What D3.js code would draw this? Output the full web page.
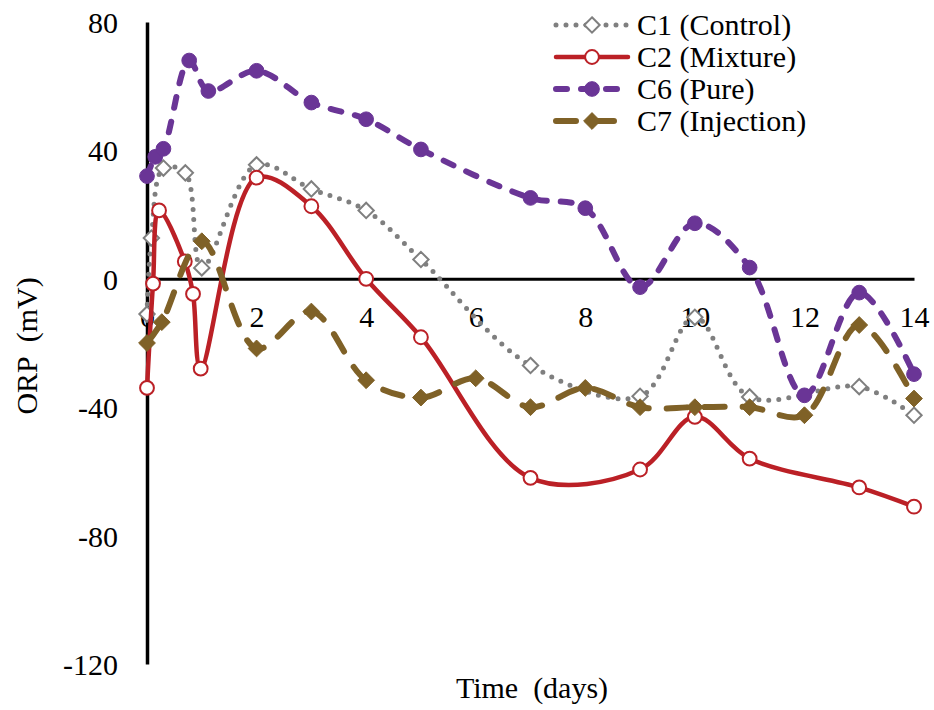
<!DOCTYPE html>
<html>
<head>
<meta charset="utf-8">
<script src="https://cdn.jsdelivr.net/npm/d3@7"></script>
<style>
  body { margin: 0; background: #fff; }
  svg text { font-family: "Liberation Serif", "Times New Roman", serif; fill: #000; }
</style>
</head>
<body>
<svg id="chart" width="934" height="710"></svg>
<script>
// ORP readings over two weeks for four treatments
const xTicks = [0, 2, 4, 6, 8, 10, 12, 14];
const yTicks = [80, 40, 0, -40, -80, -120];

const c1Days = [0, 0.08, 0.3, 0.7, 1.0, 2, 3, 4, 5, 7, 9, 10, 11, 13, 14];
const c1Orp  = [-11, 12.7, 34.5, 33, 3.4, 35.5, 28, 21.3, 6, -27, -36.6, -12, -36.8, -33.6, -42.5];

const c2Days = [0, 0.11, 0.22, 0.69, 0.84, 0.98, 2, 3, 4, 5, 7, 9, 10, 11, 13, 14];
const c2Orp  = [-34, -1.5, 21.3, 5.4, -4.7, -28, 31.5, 22.6, 0, -18.2, -62, -59.4, -43, -56, -65, -71];

const c6Days = [0, 0.15, 0.3, 0.77, 1.12, 2, 3, 4, 5, 7, 8, 9, 10, 11, 12, 13, 14];
const c6Orp  = [32, 38, 40.5, 68, 58.5, 64.8, 54.9, 49.7, 40.3, 25.2, 22, -2.6, 17.3, 3.5, -36.3, -4.3, -29.7];

const c7Days = [0, 0.27, 1.0, 2, 3, 4, 5, 6, 7, 8, 9, 10, 11, 12, 13, 14];
const c7Orp  = [-20, -13.5, 11.7, -21.7, -10.2, -31.6, -37, -31, -40, -34, -40, -40, -40, -42.5, -14.4, -37.3];

const seriesNames = ["C1 (Control)", "C2 (Mixture)", "C6 (Pure)", "C7 (Injection)"];

const svg = d3.select("#chart");
const x = d3.scaleLinear().domain([0, 14]).range([147, 914]);
const y = d3.scaleLinear().domain([-120, 80]).range([664, 22]);

// series styling
const styles = [
  { color: "#7f7f7f", width: 5,   dash: "0,10",  cap: "round", marker: "diamond", filled: false, msize: 150 },
  { color: "#bb2026", width: 4.5, dash: null,    cap: "round", marker: "circle",  filled: false, msize: 150 },
  { color: "#6a3596", width: 6,   dash: "11,14", cap: "round", marker: "circle",  filled: true,  msize: 170 },
  { color: "#7f6127", width: 6,   dash: "20,18", cap: "round", marker: "diamond", filled: true,  msize: 180 }
];

const series = [
  c1Days.map((d, i) => [d, c1Orp[i]]),
  c2Days.map((d, i) => [d, c2Orp[i]]),
  c6Days.map((d, i) => [d, c6Orp[i]]),
  c7Days.map((d, i) => [d, c7Orp[i]])
];

// plain hyphen for negatives
const fmt = d => String(d);

// axes
const xAxis = d3.axisBottom(x).tickValues(xTicks).tickSize(0).tickPadding(0).tickFormat(fmt);
const gx = svg.append("g").attr("transform", `translate(0,${y(0)})`).call(xAxis);
gx.select(".domain").attr("stroke", "#000").attr("stroke-width", 3);
gx.selectAll("text").attr("font-size", 30).attr("dy", 0).attr("y", 48)
  .style("font-family", '"Liberation Serif", serif');

const yAxis = d3.axisLeft(y).tickValues(yTicks).tickSize(0).tickPadding(0).tickFormat(fmt);
const gy = svg.append("g").attr("transform", `translate(${x(0)},0)`).call(yAxis);
gy.select(".domain").attr("stroke", "#000").attr("stroke-width", 3.5);
gy.selectAll("text").attr("font-size", 30).attr("x", -29).attr("dy", "0.35em")
  .style("font-family", '"Liberation Serif", serif');

// axis titles
svg.append("text").attr("x", 532).attr("y", 698).attr("text-anchor", "middle")
  .attr("font-size", 30).style("white-space", "pre").text("Time  (days)");
svg.append("text").attr("transform", "translate(37,346) rotate(-90)").attr("text-anchor", "middle")
  .attr("font-size", 30).style("white-space", "pre").text("ORP  (mV)");

const line = d3.line().x(d => x(d[0])).y(d => y(d[1])).curve(d3.curveCatmullRom.alpha(0.5));

function markerPath(st) {
  const type = st.marker === "diamond" ? d3.symbolDiamond2 : d3.symbolCircle;
  return d3.symbol().type(type).size(st.msize)();
}

series.forEach((pts, si) => {
  const st = styles[si];
  const g = svg.append("g");
  g.append("path").attr("d", line(pts)).attr("fill", "none")
    .attr("stroke", st.color).attr("stroke-width", st.width)
    .attr("stroke-linecap", st.cap).attr("stroke-linejoin", "round")
    .attr("stroke-dasharray", st.dash);
  g.selectAll("path.mk").data(pts).join("path").attr("class", "mk")
    .attr("d", markerPath(st))
    .attr("transform", d => `translate(${x(d[0])},${y(d[1])})`)
    .attr("fill", st.filled ? st.color : "#fff")
    .attr("stroke", st.color).attr("stroke-width", st.filled ? 1 : 2);
});

// legend
const legend = svg.append("g");
seriesNames.forEach((name, i) => {
  const st = styles[i];
  const cy = 25 + i * 32;
  legend.append("line").attr("x1", 556).attr("x2", 628).attr("y1", cy).attr("y2", cy)
    .attr("stroke", st.color).attr("stroke-width", st.width)
    .attr("stroke-linecap", st.cap).attr("stroke-dasharray", st.dash);
  legend.append("path").attr("d", markerPath(st)).attr("transform", `translate(592,${cy})`)
    .attr("fill", st.filled ? st.color : "#fff")
    .attr("stroke", st.color).attr("stroke-width", st.filled ? 1 : 2);
  legend.append("text").attr("x", 637).attr("y", cy + 10).attr("font-size", 30).text(name);
});
</script>
</body>
</html>
